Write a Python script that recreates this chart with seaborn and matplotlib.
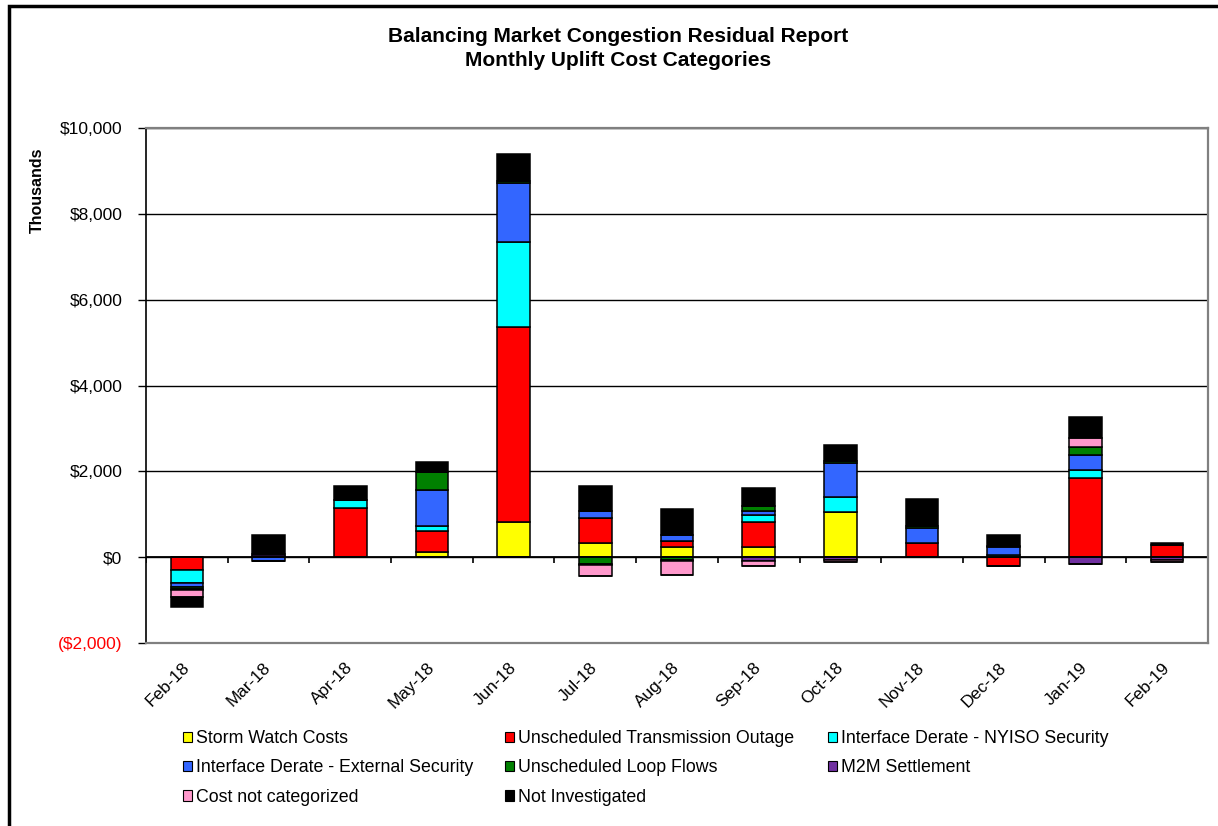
import numpy as np
import matplotlib
matplotlib.use("Agg")
import matplotlib.pyplot as plt
from matplotlib.patches import Patch, Rectangle
import seaborn as sns

# ==========================
# data ($ thousands)
# ==========================
months = ["Feb-18", "Mar-18", "Apr-18", "May-18", "Jun-18", "Jul-18", "Aug-18",
          "Sep-18", "Oct-18", "Nov-18", "Dec-18", "Jan-19", "Feb-19"]

storm_watch = [0, 0, 0, 110, 810, 330, 230, 235, 1055, 0, 0, 0, 0]
transmission_outage = [-300, 0, 1140, 490, 4560, 575, 140, 575, 0, 325, -215, 1845, 285]
nyiso_security = [-300, 0, 190, 130, 1975, 0, 0, 180, 340, 0, 55, 195, 0]
external_security = [-100, -100, 0, 825, 1370, 165, 140, 80, 790, 355, 185, 340, 0]
loop_flows = [-40, 30, 0, 440, 60, -160, -60, 130, 60, 55, 20, 180, 0]
m2m_settlement = [-20, 50, 0, 0, 0, -20, -40, -80, -60, 0, 0, -165, -60]
not_categorized = [-170, 0, 0, 0, 0, -250, -320, -120, -60, 0, 0, 215, -60]
not_investigated = [-230, 440, 330, 225, 620, 590, 615, 405, 380, 620, 255, 485, 40]

series_names = ["Storm Watch Costs", "Unscheduled Transmission Outage",
                "Interface Derate - NYISO Security", "Interface Derate - External Security",
                "Unscheduled Loop Flows", "M2M Settlement", "Cost not categorized",
                "Not Investigated"]
series_values = [storm_watch, transmission_outage, nyiso_security, external_security,
                 loop_flows, m2m_settlement, not_categorized, not_investigated]
series_colors = ["#FFFF00", "#FF0000", "#00FFFF", "#3366FF",
                 "#008000", "#7030A0", "#FF99CC", "#000000"]

y_ticks = [-2000, 0, 2000, 4000, 6000, 8000, 10000]

# ==========================
# style
# ==========================
sns.set_style("white")
plt.rcParams['font.family'] = ['Liberation Sans', 'DejaVu Sans']
plt.rcParams.update({"text.color": "black", "axes.labelcolor": "black",
                     "xtick.color": "black", "ytick.color": "black"})

W, H = 1218, 826
fig = plt.figure(figsize=(W / 100, H / 100), dpi=100)
ax = fig.add_axes([146 / W, 1 - 643 / H, (1208 - 146) / W, (643 - 128) / H])

# ==========================
# stacked bars (positives up, negatives down, like Excel)
# ==========================
n = len(months)
pos_base = np.zeros(n)
neg_base = np.zeros(n)
for vals, col in zip(series_values, series_colors):
    v = np.array(vals, dtype=float)
    pos = np.clip(v, 0, None)
    neg = np.clip(v, None, 0)
    for part, base in ((pos, pos_base), (neg, neg_base)):
        sns.barplot(x=months, y=part, order=months, bottom=base.copy(),
                    width=0.4, color=col, saturation=1, errorbar=None,
                    edgecolor="black", linewidth=1.1, ax=ax)
    pos_base += pos
    neg_base += neg

# ==========================
# axes
# ==========================
ax.set_ylim(-2000, 10000)
ax.set_xlim(-0.5, n - 0.5)
ax.set_xlabel("")
ax.set_ylabel("")

ax.set_axisbelow(True)
ax.yaxis.grid(True, color="black", linewidth=1.0)
ax.axhline(0, color="black", linewidth=1.3, zorder=1)
# category tick marks on the zero line
ax.vlines(np.arange(n + 1) - 0.5, -140, 0, color="black", linewidth=1.2, zorder=1)

ax.set_yticks(y_ticks)
labels = ax.set_yticklabels([f"${v:,.0f}" if v >= 0 else f"(${-v:,.0f})" for v in y_ticks])
for v, lab in zip(y_ticks, labels):
    if v < 0:
        lab.set_color("#FF0000")
ax.tick_params(axis="y", left=True, direction="out", length=6, width=1.0,
               color="black", pad=11, labelsize=12.5)
ax.tick_params(axis="x", bottom=False, length=0, pad=16, labelsize=12.4)
plt.setp(ax.get_xticklabels(), rotation=45, ha="right", va="center",
         rotation_mode="anchor")

for side in ["top", "right", "bottom"]:
    ax.spines[side].set_color("#808080")
    ax.spines[side].set_linewidth(1.6)
ax.spines["left"].set_color("black")
ax.spines["left"].set_linewidth(1.2)

# ==========================
# titles
# ==========================
fig.text(618 / W, 1 - 37 / H, "Balancing Market Congestion Residual Report",
         ha="center", va="center", fontsize=15, fontweight="bold")
fig.text(618 / W, 1 - 61 / H, "Monthly Uplift Cost Categories",
         ha="center", va="center", fontsize=15, fontweight="bold")
fig.text(37 / W, 1 - 190 / H, "Thousands", rotation=90, ha="center", va="center",
         fontsize=11.5, fontweight="bold")

# ==========================
# legend (Excel row-wise order, three columns)
# ==========================
handles = [Patch(facecolor=c, edgecolor="black", linewidth=0.8, label=s)
           for s, c in zip(series_names, series_colors)]
columns = [[0, 3, 6], [1, 4, 7], [2, 5]]
col_x = [183, 505, 828]
for idx, x0 in zip(columns, col_x):
    fig.legend(handles=[handles[i] for i in idx], loc="upper left",
               bbox_to_anchor=(x0 / W, 1 - 730 / H), frameon=False,
               fontsize=12.8, handlelength=0.52, handleheight=0.52,
               handletextpad=0.2, labelspacing=0.7, borderpad=0, borderaxespad=0)

# outer chart frame
fig.patches.append(Rectangle((8.5 / W, -0.1), 1.2, 1.1 - 5.5 / H, transform=fig.transFigure,
                             fill=False, edgecolor="black", linewidth=2.5))

fig.savefig("out.png", dpi=100)
